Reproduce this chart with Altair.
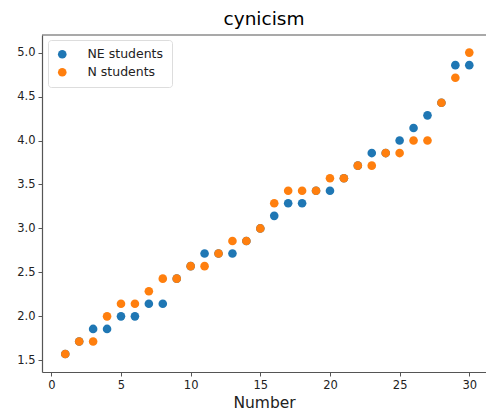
import altair as alt
import pandas as pd

numbers = list(range(1, 31))
ne_students = [1.571, 1.714, 1.857, 1.857, 2.0, 2.0, 2.143, 2.143, 2.429, 2.571,
               2.714, 2.714, 2.714, 2.857, 3.0, 3.143, 3.286, 3.286, 3.429, 3.429,
               3.571, 3.714, 3.857, 3.857, 4.0, 4.143, 4.286, 4.429, 4.857, 4.857]
n_students = [1.571, 1.714, 1.714, 2.0, 2.143, 2.143, 2.286, 2.429, 2.429, 2.571,
              2.571, 2.714, 2.857, 2.857, 3.0, 3.286, 3.429, 3.429, 3.429, 3.571,
              3.571, 3.714, 3.714, 3.857, 3.857, 4.0, 4.0, 4.429, 4.714, 5.0]
series_names = ["NE students", "N students"]
series_colors = ["#1f77b4", "#ff7f0e"]

rows = []
for i, n in enumerate(numbers):
    rows.append({"Number": n, "value": ne_students[i], "group": series_names[0], "order": 0})
for i, n in enumerate(numbers):
    rows.append({"Number": n, "value": n_students[i], "group": series_names[1], "order": 1})
df = pd.DataFrame(rows)

font = "DejaVu Sans"
W, H = 444, 337

points = alt.Chart(df).mark_circle(size=74, opacity=1).encode(
    x=alt.X("Number:Q",
            scale=alt.Scale(domain=[-0.67, 31.2], nice=False, zero=False),
            axis=alt.Axis(values=[0, 5, 10, 15, 20, 25, 30], title="Number",
                          grid=False, tickSize=4, labelPadding=3,
                          titleFontSize=15.5, titleFontWeight="normal",
                          titlePadding=5)),
    y=alt.Y("value:Q",
            scale=alt.Scale(domain=[1.367, 5.2], nice=False, zero=False),
            axis=alt.Axis(values=[1.5, 2.0, 2.5, 3.0, 3.5, 4.0, 4.5, 5.0], format=".1f",
                          title=None, grid=False, tickSize=4, labelPadding=3)),
    color=alt.Color("group:N",
                    scale=alt.Scale(domain=series_names, range=series_colors),
                    legend=alt.Legend(title=None, orient="none", legendX=6, legendY=5,
                                      symbolType="circle", symbolSize=74,
                                      labelFontSize=12.5, labelOffset=19,
                                      padding=8, rowPadding=5,
                                      strokeColor="#dddddd", cornerRadius=3,
                                      fillColor="white", symbolOpacity=1)),
    order=alt.Order("order:Q"),
)

one_row = pd.DataFrame({"a": [0]})

right_mask = alt.Chart(one_row).mark_rule(
    color="white", strokeWidth=4
).encode(x=alt.value(W), y=alt.value(1), y2=alt.value(H - 1))

top_border = alt.Chart(one_row).mark_rule(
    color="#555555", strokeWidth=1.2
).encode(y=alt.value(0))

chart = alt.layer(points, right_mask, top_border).properties(
    width=W,
    height=H,
    title=alt.TitleParams("cynicism", fontSize=18.5, fontWeight="normal", font=font,
                          anchor="middle", offset=6, color="black"),
    autosize=alt.AutoSizeParams(type="none"),
    padding={"left": 42, "top": 35, "right": 0, "bottom": 43},
).configure_view(
    strokeOpacity=0, strokeWidth=0
).configure_axis(
    labelFont=font, titleFont=font, labelFontSize=11.5, labelColor="#222222",
    titleColor="#222222", domainColor="#555555", tickColor="#555555", domainWidth=1.2
).configure_legend(
    labelFont=font, labelColor="#222222"
)

chart.save("out.html", embed_options={"renderer": "svg", "actions": False})
